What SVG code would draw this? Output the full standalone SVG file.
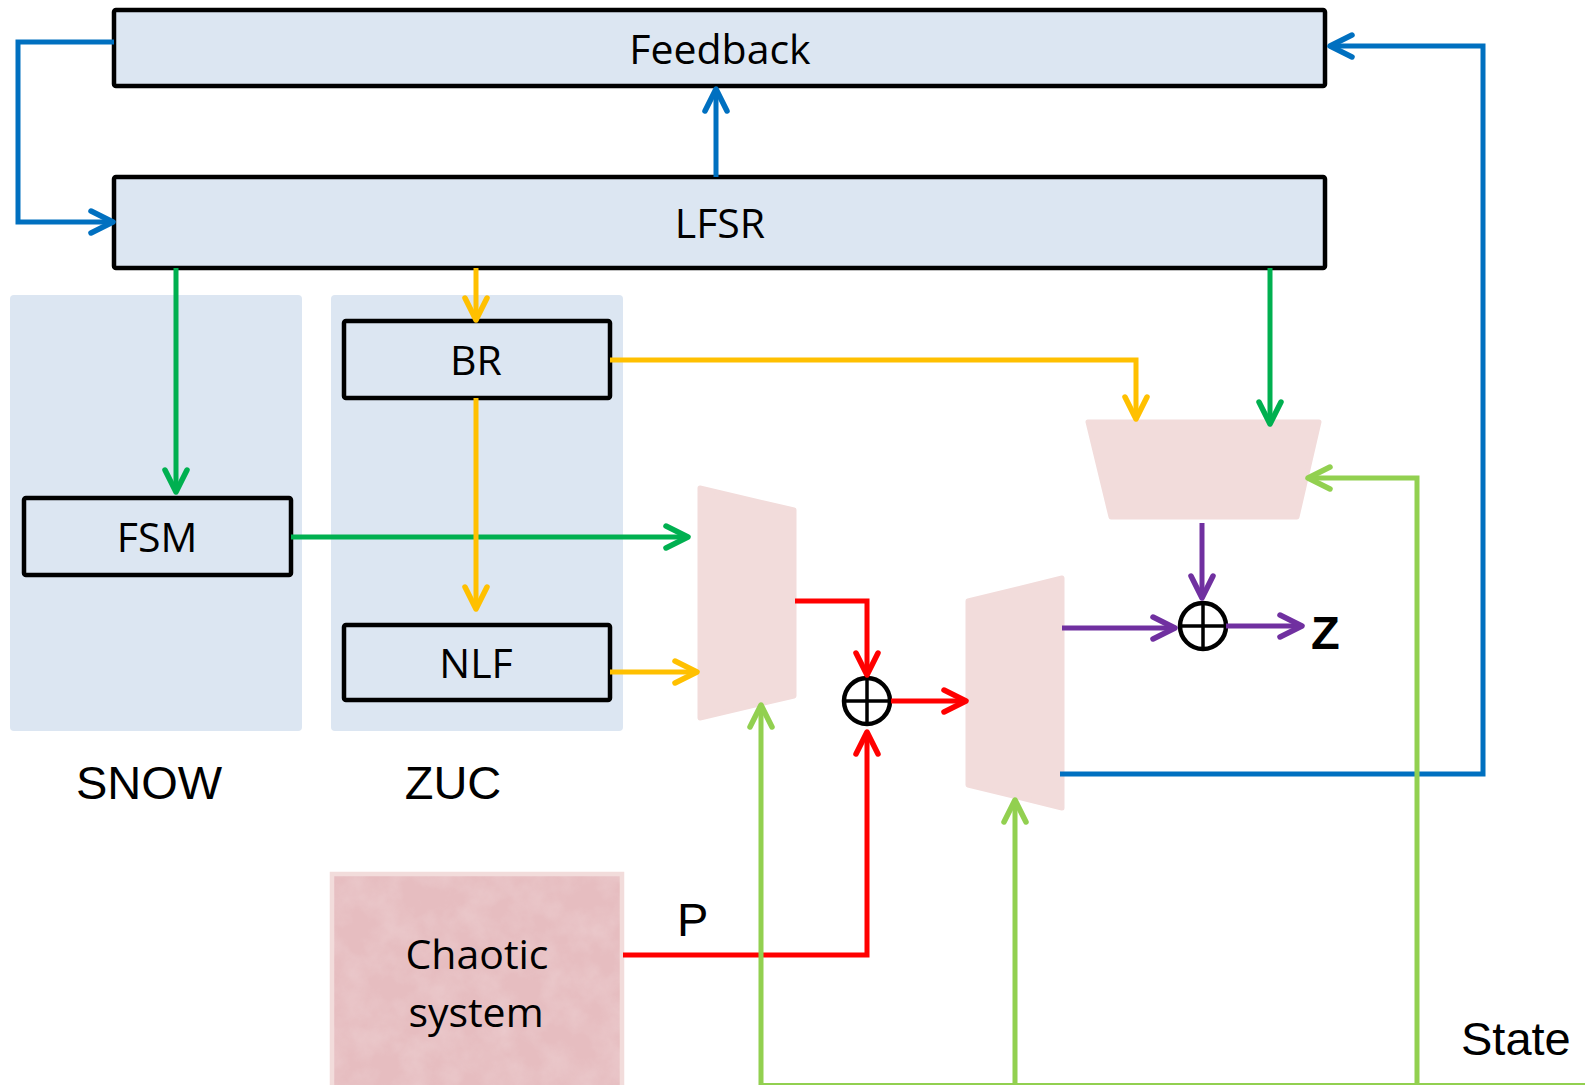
<svg xmlns="http://www.w3.org/2000/svg" width="1585" height="1085" viewBox="0 0 1585 1085">
<style>
.box{fill:#dce6f2;stroke:#000;stroke-width:4.5;stroke-linejoin:round}
.panel{fill:#dce6f2}
.mux{fill:#f2dcdb;stroke:#f2dcdb;stroke-width:5;stroke-linejoin:round}
.cal{font-family:"Open Sans","Noto Sans",sans-serif;font-size:41px;fill:#000;text-anchor:middle}
.ar{font-family:"Liberation Sans",Arial,sans-serif;font-size:47px;fill:#000}
.c{fill:none;stroke-width:5;stroke-linejoin:miter}
.blue{stroke:#0070c0}.green{stroke:#00b050}.orange{stroke:#ffc000}.red{stroke:#ff0000}.lg{stroke:#92d050}.purple{stroke:#7030a0}
.xor{fill:#fff;stroke:#000;stroke-width:4.5}
.xl{stroke:#000;stroke-width:3.5}
</style>
<defs>
<marker id="mBlue" markerUnits="userSpaceOnUse" markerWidth="34" markerHeight="34" viewBox="-28 -17 34 34" refX="0" refY="0" orient="auto"><path d="M-22,-11 L0,0 L-22,11" fill="none" stroke="#0070c0" stroke-width="5.5" stroke-linecap="round" stroke-linejoin="round"/></marker>
<marker id="mGreen" markerUnits="userSpaceOnUse" markerWidth="34" markerHeight="34" viewBox="-28 -17 34 34" refX="0" refY="0" orient="auto"><path d="M-22,-11 L0,0 L-22,11" fill="none" stroke="#00b050" stroke-width="5.5" stroke-linecap="round" stroke-linejoin="round"/></marker>
<marker id="mOrange" markerUnits="userSpaceOnUse" markerWidth="34" markerHeight="34" viewBox="-28 -17 34 34" refX="0" refY="0" orient="auto"><path d="M-22,-11 L0,0 L-22,11" fill="none" stroke="#ffc000" stroke-width="5.5" stroke-linecap="round" stroke-linejoin="round"/></marker>
<marker id="mRed" markerUnits="userSpaceOnUse" markerWidth="34" markerHeight="34" viewBox="-28 -17 34 34" refX="0" refY="0" orient="auto"><path d="M-22,-11 L0,0 L-22,11" fill="none" stroke="#ff0000" stroke-width="5.5" stroke-linecap="round" stroke-linejoin="round"/></marker>
<marker id="mLg" markerUnits="userSpaceOnUse" markerWidth="34" markerHeight="34" viewBox="-28 -17 34 34" refX="0" refY="0" orient="auto"><path d="M-22,-11 L0,0 L-22,11" fill="none" stroke="#92d050" stroke-width="5.5" stroke-linecap="round" stroke-linejoin="round"/></marker>
<marker id="mPurple" markerUnits="userSpaceOnUse" markerWidth="34" markerHeight="34" viewBox="-28 -17 34 34" refX="0" refY="0" orient="auto"><path d="M-22,-11 L0,0 L-22,11" fill="none" stroke="#7030a0" stroke-width="5.5" stroke-linecap="round" stroke-linejoin="round"/></marker>
<filter id="tex" x="0" y="0" width="1" height="1">
<feTurbulence type="fractalNoise" baseFrequency="0.035" numOctaves="4" seed="7" result="n"/>
<feColorMatrix in="n" type="matrix" values="0 0 0 0 1  0 0 0 0 1  0 0 0 0 1  0.9 0 0 0 -0.3"/>
</filter>
</defs>

<g id="snow-panel"><rect class="panel" x="10" y="295" width="292" height="436" rx="4"/><text class="ar" x="149" y="799" text-anchor="middle">SNOW</text></g>
<g id="zuc-panel"><rect class="panel" x="331" y="295" width="292" height="436" rx="4"/><text class="ar" x="453" y="799" text-anchor="middle">ZUC</text></g>

<g id="feedback"><rect class="box" x="114" y="10" width="1211" height="76" rx="2"/><text class="cal" x="720" y="64">Feedback</text></g>
<g id="lfsr"><rect class="box" x="114" y="177" width="1211" height="91" rx="2"/><text class="cal" x="720" y="238">LFSR</text></g>
<g id="br"><rect class="box" x="344" y="321" width="266" height="77" rx="2"/><text class="cal" x="476" y="375">BR</text></g>
<g id="fsm"><rect class="box" x="24" y="498" width="267" height="77" rx="2"/><text class="cal" x="157" y="552">FSM</text></g>
<g id="nlf"><rect class="box" x="344" y="625" width="266" height="75" rx="2"/><text class="cal" x="476" y="678">NLF</text></g>

<g id="chaotic">
<rect x="332" y="874" width="290" height="215" fill="#e6bdc0" stroke="#f2dcdb" stroke-width="4.5"/>
<rect x="334" y="876" width="286" height="212" filter="url(#tex)" opacity="0.35"/>
<text class="cal" x="477" y="969">Chaotic</text>
<text class="cal" x="476" y="1027">system</text>
</g>

<g id="mux1"><polygon class="mux" points="700,488 794,510 794,696 700,718"/></g>
<g id="mux2"><polygon class="mux" points="968,601 1062,578 1062,808 968,785"/></g>
<g id="mux3"><polygon class="mux" points="1088,422 1319,422 1297,517 1111,517"/></g>

<g id="xor1"><circle class="xor" cx="867" cy="701" r="23"/><line class="xl" x1="844" y1="701" x2="890" y2="701"/><line class="xl" x1="867" y1="678" x2="867" y2="724"/></g>
<g id="xor2"><circle class="xor" cx="1203" cy="626" r="23"/><line class="xl" x1="1180" y1="626" x2="1226" y2="626"/><line class="xl" x1="1203" y1="603" x2="1203" y2="649"/></g>

<g id="labels">
<text class="ar" x="677" y="936">P</text>
<text class="ar" x="1311" y="649" font-weight="bold">Z</text>
<text class="ar" x="1461" y="1055">State</text>
</g>

<g id="connectors">
<path class="c blue" d="M114,42 H18 V222 H113" marker-end="url(#mBlue)"/>
<path class="c blue" d="M716,177 V89" marker-end="url(#mBlue)"/>
<path class="c blue" d="M1060,774 H1483 V46 H1330" marker-end="url(#mBlue)"/>
<path class="c green" d="M176,268 V492" marker-end="url(#mGreen)"/>
<path class="c green" d="M291,537 H688" marker-end="url(#mGreen)"/>
<path class="c green" d="M1270,268 V424" marker-end="url(#mGreen)"/>
<path class="c orange" d="M476,268 V320" marker-end="url(#mOrange)"/>
<path class="c orange" d="M610,360 H1136 V419" marker-end="url(#mOrange)"/>
<path class="c orange" d="M476,398 V609" marker-end="url(#mOrange)"/>
<path class="c orange" d="M610,672 H697" marker-end="url(#mOrange)"/>
<path class="c red" d="M795,601 H867 V675" marker-end="url(#mRed)"/>
<path class="c red" d="M891,701 H966" marker-end="url(#mRed)"/>
<path class="c red" d="M623,955 H867 V732" marker-end="url(#mRed)"/>
<path class="c lg" d="M761,1086 V705" marker-end="url(#mLg)"/>
<path class="c lg" d="M1015,1086 V800" marker-end="url(#mLg)"/>
<path class="c lg" d="M1417,1086 V478 H1308" marker-end="url(#mLg)"/>
<path class="c lg" d="M761,1085.5 H1585" stroke-width="5"/>
<path class="c purple" d="M1202,523 V598" marker-end="url(#mPurple)"/>
<path class="c purple" d="M1062,628 H1175" marker-end="url(#mPurple)"/>
<path class="c purple" d="M1226,626 H1302" marker-end="url(#mPurple)"/>
</g>
</svg>
